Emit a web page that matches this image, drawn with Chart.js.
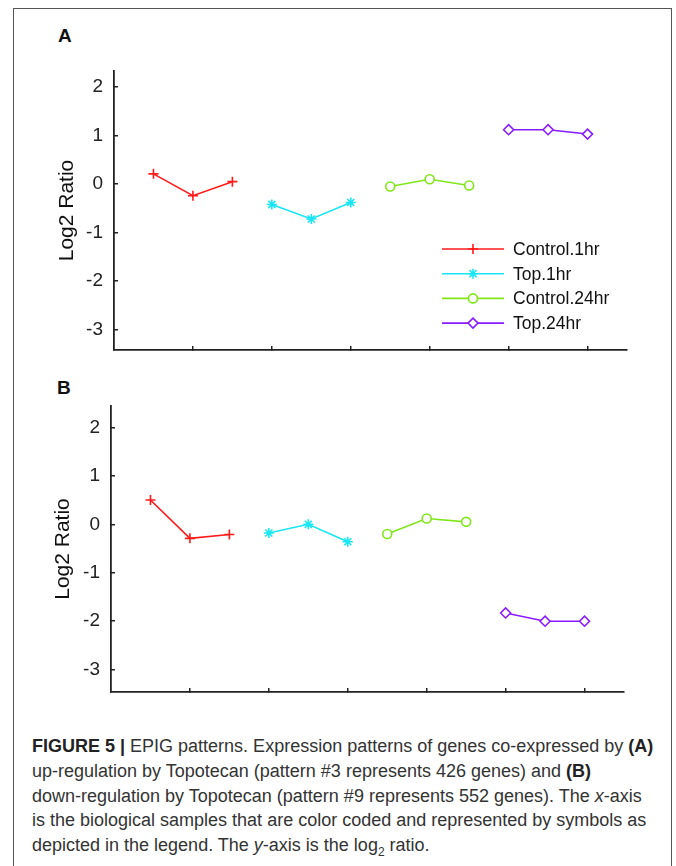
<!DOCTYPE html>
<html>
<head>
<meta charset="utf-8">
<script src="https://cdn.jsdelivr.net/npm/chart.js@4.4.1/dist/chart.umd.min.js"></script>
<style>
  html,body{margin:0;padding:0;background:#fff;}
  body{width:676px;height:866px;position:relative;overflow:hidden;font-family:"Liberation Sans",Arial,sans-serif;}
  .frame{position:absolute;left:13px;top:8px;width:657px;height:900px;border:1.5px solid #555;border-bottom:none;}
  .cv{position:absolute;left:0;}
  .tag{position:absolute;font-weight:bold;font-size:19px;color:#111;}
  .cap{position:absolute;left:32px;top:734px;font-size:18px;line-height:24.8px;color:#333;white-space:nowrap;}
  .cap b{color:#222;}
</style>
</head>
<body>
<div class="frame"></div>
<div class="tag" style="left:58px;top:25px;">A</div>
<div class="tag" style="left:57px;top:377px;">B</div>
<div class="cv" style="top:0;width:676px;height:362px;"><canvas id="chartA"></canvas></div>
<div class="cv" style="top:362px;width:676px;height:340px;"><canvas id="chartB"></canvas></div>
<div class="cap">
<b>FIGURE 5 |</b> EPIG patterns. Expression patterns of genes co-expressed by <b>(A)</b><br>
up-regulation by Topotecan (pattern #3 represents 426 genes) and <b>(B)</b><br>
down-regulation by Topotecan (pattern #9 represents 552 genes). The <i>x</i>-axis<br>
is the biological samples that are color coded and represented by symbols as<br>
depicted in the legend. The <i>y</i>-axis is the log<sub style="font-size:12px;line-height:0">2</sub> ratio.
</div>
<script>
// samples: 3 replicates per group, x positions 1..12
const seriesNames = ['Control.1hr','Top.1hr','Control.24hr','Top.24hr'];
const sampleX = [[1,2,3],[4,5,6],[7,8,9],[10,11,12]];
const colors = ['#ff1a1a','#19e6f5','#80e61a','#8a1aff'];
const markers = ['cross','star','circle','rectRot'];

// panel A: up-regulation (pattern #3)
const patternA = [
  [0.21,-0.24,0.05],
  [-0.42,-0.72,-0.38],
  [-0.05,0.10,-0.03],
  [1.12,1.12,1.03]
];
// panel B: down-regulation (pattern #9)
const patternB = [
  [0.50,-0.29,-0.21],
  [-0.18,0.00,-0.36],
  [-0.20,0.12,0.05],
  [-1.83,-2.00,-2.00]
];

const yTicks = [-3,-2,-1,0,1,2];
const xTicks = [2,4,6,8,10,12];
const yTitle = 'Log2 Ratio';

const FONT = '"Liberation Sans", Arial, sans-serif';

function makeDatasets(pattern){
  return pattern.map((vals,i)=>({
    label: seriesNames[i],
    data: vals.map((v,j)=>({x:sampleX[i][j], y:v})),
    borderColor: colors[i],
    backgroundColor: '#fff',
    pointBorderColor: colors[i],
    pointBackgroundColor: '#fff',
    pointStyle: markers[i],
    pointRadius: markers[i]==='circle' ? 4.5 : 5,
    pointBorderWidth: 1.6,
    borderWidth: 1.6,
    tension: 0,
    showLine: true
  }));
}

// legend drawn inside the plot, matlab style
const inLegend = {
  id:'inLegend',
  afterDatasetsDraw(chart, args, opts){
    if(!opts.show) return;
    const ctx = chart.ctx, a = chart.chartArea;
    const x0 = a.right - 185, x1 = x0 + 62, xm = (x0+x1)/2;
    let y = a.top + 178;
    ctx.save();
    chart.data.datasets.forEach(ds=>{
      ctx.strokeStyle = ds.borderColor; ctx.lineWidth = 1.6;
      ctx.beginPath(); ctx.moveTo(x0,y); ctx.lineTo(x1,y); ctx.stroke();
      ctx.fillStyle = '#fff';
      Chart.helpers.drawPoint(ctx, {pointStyle:ds.pointStyle, radius:ds.pointRadius, borderWidth:1.6, rotation:0}, xm, y);
      ctx.fillStyle = '#111'; ctx.font = '17.5px '+FONT;
      ctx.textAlign='left'; ctx.textBaseline='middle';
      ctx.fillText(ds.label, x1+9, y+1);
      y += 24.7;
    });
    ctx.restore();
  }
};

function makeChart(id, pattern, box){
  return new Chart(document.getElementById(id), {
    type:'scatter',
    data:{ datasets: makeDatasets(pattern) },
    plugins:[inLegend],
    options:{
      responsive:true, maintainAspectRatio:false, animation:false,
      layout:{ padding:{ left:0, right:box.right, top:box.top, bottom:box.bottom } },
      plugins:{ legend:{display:false}, tooltip:{enabled:false}, inLegend:{show:box.legend} },
      scales:{
        x:{
          type:'linear', min:0, max:13,
          afterBuildTicks:s=>{ s.ticks = xTicks.map(v=>({value:v})); },
          afterFit:s=>{ s.height = 0; s.paddingLeft = 0; s.paddingRight = 0; },
          ticks:{ display:false },
          grid:{ drawOnChartArea:false, tickLength:-4, color:'#222', lineWidth:1.5 },
          border:{ color:'#222', width:1.8 }
        },
        y:{
          type:'linear', min:box.ymin, max:box.ymax,
          afterBuildTicks:s=>{ s.ticks = yTicks.map(v=>({value:v})); },
          afterFit:s=>{ s.width = box.axisX; s.paddingTop = 0; s.paddingBottom = 0; },
          ticks:{ padding:15, color:'#222', font:{family:FONT, size:19} },
          grid:{ drawOnChartArea:false, tickLength:-4, color:'#222', lineWidth:1.5 },
          border:{ color:'#222', width:1.8 },
          title:{ display:true, text:yTitle, color:'#111', font:{family:FONT, size:21}, padding:{top:box.titleOff, bottom:0} }
        }
      }
    }
  });
}

makeChart('chartA', patternA, {axisX:114, right:49, top:71, bottom:12, ymin:-3.42, ymax:2.33, titleOff:55, legend:true});
makeChart('chartB', patternB, {axisX:111, right:52, top:44, bottom:10, ymin:-3.46, ymax:2.44, titleOff:51, legend:false});
</script>
</body>
</html>
